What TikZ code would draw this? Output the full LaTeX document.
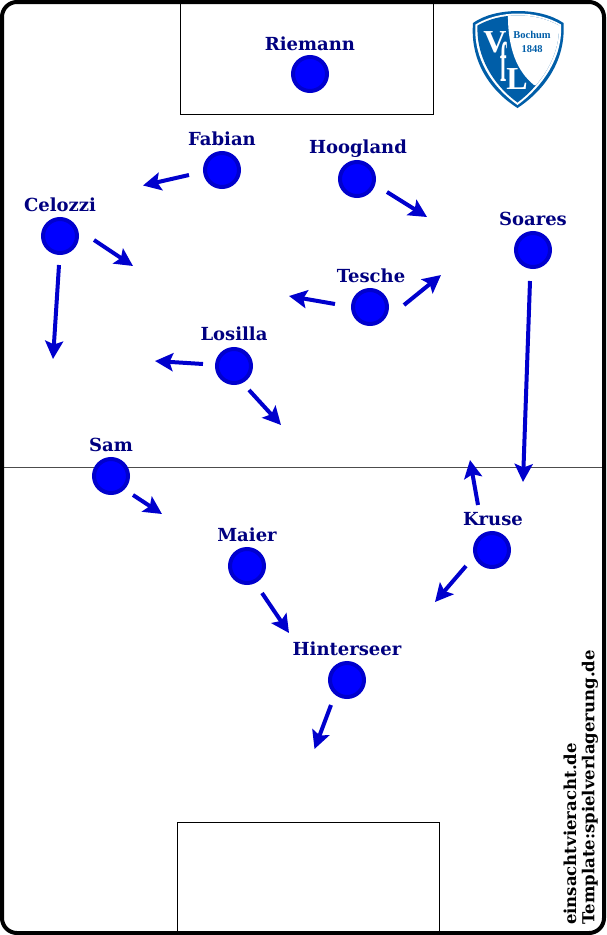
\documentclass[tikz,border=0pt]{standalone}
\usepackage{fontspec}
\setmainfont{DejaVu Serif}
\newfontfamily\logofont{Liberation Serif}
\usetikzlibrary{arrows.meta}
\definecolor{namecol}{RGB}{0,0,128}
\definecolor{ringcol}{RGB}{0,0,205}
\definecolor{logoblue}{RGB}{0,94,168}
\tikzset{
  player/.style={circle,fill=blue,draw=ringcol,line width=4pt,minimum size=34pt,inner sep=0pt,outer sep=0pt},
  pname/.style={font=\fontsize{18}{20}\selectfont\bfseries,text=namecol,inner sep=0pt},
  runarrow/.style={draw=ringcol,line width=4pt,-{Stealth[length=18pt,width=18pt,inset=3.5pt]}},
  penbox/.style={draw=black,line width=0.7pt},
  credit/.style={font=\fontsize{16.5}{18}\selectfont\bfseries,text=black,rotate=90,anchor=west,inner sep=0pt},
  logobig/.style={inner sep=0pt,text=white,font=\logofont\fontsize{32}{32}\selectfont\bfseries},
  logosmall/.style={inner sep=0pt,text=logoblue,font=\logofont\fontsize{10.5}{11}\selectfont\bfseries}
}
\begin{document}
\begin{tikzpicture}[x=1pt,y=-1pt]
\useasboundingbox (0,0) rectangle (606,935);
\fill[white] (0,0) rectangle (606,935);
% pitch
\draw[penbox] (180,2) rectangle (433,114);
\draw[penbox] (177,822) rectangle (439,933);
\draw[draw=black!70,line width=1pt] (2,467) -- (604,467);
\draw[black,line width=4pt,rounded corners=15pt] (2,2) rectangle (604,933);
% logo
\fill[logoblue] (518,11) .. controls (535,11) and (552,15) .. (563.5,23)
  .. controls (566,60) and (545,90) .. (517.5,108)
  .. controls (489,90) and (470,60) .. (473,23)
  .. controls (484,15) and (501,11) .. (518,11) -- cycle;
\fill[white] (518,13.5) .. controls (534,13.5) and (549,17.5) .. (561,24.5)
  .. controls (563,58) and (542,87) .. (517.5,105)
  .. controls (492,87) and (473,58) .. (475.5,24.5)
  .. controls (487,17.5) and (502,13.5) .. (518,13.5) -- cycle;
\begin{scope}
\clip (518,15.5) .. controls (534,15.5) and (547,19) .. (559,25.5)
  .. controls (560,56) and (541,85) .. (517.5,102.5)
  .. controls (493,85) and (476,56) .. (477.5,25.5)
  .. controls (489,19) and (502,15.5) .. (518,15.5) -- cycle;
\fill[logoblue] (470,10) rectangle (570,110);
\fill[white] (508,10) -- (570,10) -- (570,90) -- (534,85)
  .. controls (518,72) and (507,50) .. (508,10) -- cycle;
\end{scope}
\node[logobig] (logov) at (495,42) {V};
\node[logobig,xscale=.62,yscale=1.75] (logof) at (504,62) {f};
\node[logobig] (logol) at (517,79.5) {L};
\node[logosmall] (logoa) at (532,35) {Bochum};
\node[logosmall] (logob) at (532,49) {1848};
% players
\node[player] (riemann) at (310,74) {};
\node[player] (fabian) at (222,170) {};
\node[player] (hoogland) at (357,179) {};
\node[player] (celozzi) at (60,236) {};
\node[player] (soares) at (533,250) {};
\node[player] (tesche) at (370,307) {};
\node[player] (losilla) at (234,366) {};
\node[player] (sam) at (111,476) {};
\node[player] (maier) at (247,566) {};
\node[player] (kruse) at (492,550) {};
\node[player] (hinterseer) at (347,680) {};
% names
\node[pname] (nriemann) at (310,44) {Riemann};
\node[pname] (nfabian) at (222,139) {Fabian};
\node[pname] (nhoogland) at (358,148.5) {Hoogland};
\node[pname] (ncelozzi) at (60,204.5) {Celozzi};
\node[pname] (nsoares) at (533,219) {Soares};
\node[pname] (ntesche) at (371,276) {Tesche};
\node[pname] (nlosilla) at (234,334) {Losilla};
\node[pname] (nsam) at (111,445) {Sam};
\node[pname] (nmaier) at (247,535) {Maier};
\node[pname] (nkruse) at (493,519) {Kruse};
\node[pname] (nhinterseer) at (347,649) {Hinterseer};
% run endpoints
\coordinate (a1) at (189,175); \coordinate (b1) at (143,185.5);
\coordinate (a2) at (387,192); \coordinate (b2) at (427,217);
\coordinate (a3) at (94,240); \coordinate (b3) at (133,266);
\coordinate (a4) at (59,265); \coordinate (b4) at (53,359);
\coordinate (a5) at (530,281); \coordinate (b5) at (523,482);
\coordinate (a6) at (335,304); \coordinate (b6) at (289,296);
\coordinate (a7) at (404,305); \coordinate (b7) at (441,275);
\coordinate (a8) at (203,364); \coordinate (b8) at (155,361);
\coordinate (a9) at (249,390); \coordinate (b9) at (281,425);
\coordinate (a10) at (133,495); \coordinate (b10) at (162,514);
\coordinate (a11) at (262,593); \coordinate (b11) at (289,633);
\coordinate (a12) at (466,566); \coordinate (b12) at (435,602);
\coordinate (a13) at (478,505); \coordinate (b13) at (470,460);
\coordinate (a14) at (331,705); \coordinate (b14) at (314.5,749);
\foreach \i in {1,...,14} {\draw[runarrow] (a\i) -- (b\i);}
% credits
\node[credit] (c1) at (570,925) {einsachtvieracht.de};
\node[credit] (c2) at (590,925) {Template:spielverlagerung.de};
\end{tikzpicture}
\end{document}
